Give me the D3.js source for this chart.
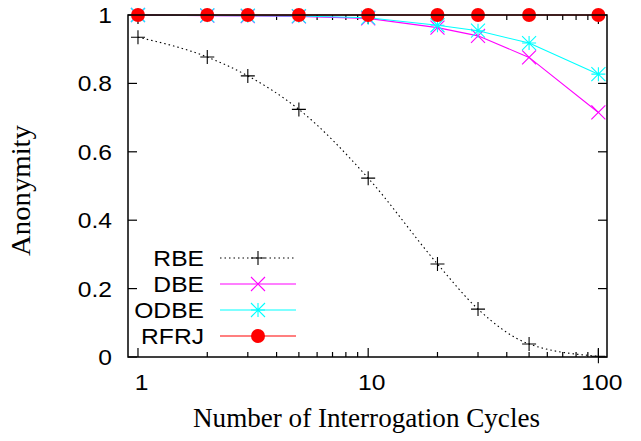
<!DOCTYPE html>
<html>
<head>
<meta charset="utf-8">
<script src="https://cdn.jsdelivr.net/npm/d3@7"></script>
<style>
  body { margin: 0; background: #fff; }
</style>
</head>
<body>
<div id="chart"></div>
<script>
// data
const cycles = [1, 2, 3, 5, 10, 20, 30, 50, 100];
const rbe  = [0.935, 0.877, 0.822, 0.724, 0.523, 0.272, 0.140, 0.038, 0.002];
const dbe  = [1.0, 0.998, 0.997, 0.996, 0.99, 0.963, 0.939, 0.876, 0.715];
const odbe = [1.0, 0.999, 0.998, 0.997, 0.992, 0.970, 0.954, 0.918, 0.827];
const rfrj = [1, 1, 1, 1, 1, 1, 1, 1, 1];
const xTicks = [1, 10, 100];
const yTicks = [0, 0.2, 0.4, 0.6, 0.8, 1];

const series = [
    {name: "RBE",  values: rbe,  color: "#000000", marker: "plus",   dash: "1.5,3", smooth: true},
    {name: "DBE",  values: dbe,  color: "#ff00ff", marker: "cross",  dash: null},
    {name: "ODBE", values: odbe, color: "#00ffff", marker: "star",   dash: null},
    {name: "RFRJ", values: rfrj, color: "#ff0000", marker: "circle", dash: null}
];

const width = 641, height = 441;
const margin = {top: 15, right: 34, bottom: 84, left: 128};
const sans = "Liberation Sans, Arial, sans-serif";
const serif = "Liberation Serif, Times New Roman, serif";
const stretch = 1.12;   // sans text in the picture is a bit wider than tall

const svg = d3.select("#chart")
    .append("svg")
    .attr("width", width)
    .attr("height", height);

const x = d3.scaleLog()
    .domain([0.905, 109])
    .range([margin.left, width - margin.right]);

const y = d3.scaleLinear()
    .domain([0, 1])
    .range([height - margin.bottom, margin.top]);

const x0 = margin.left, x1 = width - margin.right;
const y0 = height - margin.bottom, y1 = margin.top;

// ticks (gnuplot style, inward, mirrored)
const minor = [];
for (let d = 1; d <= 100; d *= 10)
    for (let k = 2; k <= 9; k++) if (d * k < 109) minor.push(d * k);

const tickG = svg.append("g").attr("stroke", "#000").attr("stroke-width", 1.2);
xTicks.forEach(v => {
    tickG.append("line").attr("x1", x(v)).attr("x2", x(v)).attr("y1", y0).attr("y2", y0 - 9);
    tickG.append("line").attr("x1", x(v)).attr("x2", x(v)).attr("y1", y1).attr("y2", y1 + 9);
});
minor.forEach(v => {
    tickG.append("line").attr("x1", x(v)).attr("x2", x(v)).attr("y1", y0).attr("y2", y0 - 5);
    tickG.append("line").attr("x1", x(v)).attr("x2", x(v)).attr("y1", y1).attr("y2", y1 + 5);
});
yTicks.forEach(v => {
    tickG.append("line").attr("x1", x0).attr("x2", x0 + 9).attr("y1", y(v)).attr("y2", y(v));
    tickG.append("line").attr("x1", x1).attr("x2", x1 - 9).attr("y1", y(v)).attr("y2", y(v));
});

// tick labels
svg.append("g")
    .selectAll("text")
    .data(xTicks)
    .join("text")
    .attr("transform", d => `translate(${x(d) + 3.5},390) scale(${stretch},1)`)
    .attr("text-anchor", "middle")
    .style("font-family", sans)
    .style("font-size", "22px")
    .text(d => d);

svg.append("g")
    .selectAll("text")
    .data(yTicks)
    .join("text")
    .attr("transform", d => `translate(112,${y(d) + 8}) scale(${stretch},1)`)
    .attr("text-anchor", "end")
    .style("font-family", sans)
    .style("font-size", "22px")
    .text(d => d);

// axis titles
svg.append("text")
    .attr("x", 366.5)
    .attr("y", 427)
    .attr("text-anchor", "middle")
    .attr("textLength", 347)
    .attr("lengthAdjust", "spacingAndGlyphs")
    .style("font-family", serif)
    .style("font-size", "27px")
    .text("Number of Interrogation Cycles");

svg.append("text")
    .attr("transform", `translate(30, 190.5) rotate(-90)`)
    .attr("text-anchor", "middle")
    .attr("textLength", 131)
    .attr("lengthAdjust", "spacingAndGlyphs")
    .style("font-family", serif)
    .style("font-size", "27px")
    .text("Anonymity");

// marker drawing
function drawMarker(g, type, cx, cy, color) {
    if (type === "plus") {
        g.append("path").attr("d", `M${cx - 7},${cy}H${cx + 7}M${cx},${cy - 7}V${cy + 7}`)
            .attr("stroke", color).attr("stroke-width", 1.1).attr("fill", "none");
    } else if (type === "cross") {
        g.append("path").attr("d", `M${cx - 7},${cy - 7}L${cx + 7},${cy + 7}M${cx - 7},${cy + 7}L${cx + 7},${cy - 7}`)
            .attr("stroke", color).attr("stroke-width", 1.1).attr("fill", "none");
    } else if (type === "star") {
        g.append("path").attr("d", `M${cx - 7},${cy}H${cx + 7}M${cx},${cy - 7}V${cy + 7}M${cx - 7},${cy - 7}L${cx + 7},${cy + 7}M${cx - 7},${cy + 7}L${cx + 7},${cy - 7}`)
            .attr("stroke", color).attr("stroke-width", 1.1).attr("fill", "none");
    } else {
        g.append("circle").attr("cx", cx).attr("cy", cy).attr("r", 7).attr("fill", color);
    }
}

const plot = svg.append("g");

series.forEach(s => {
    const pts = cycles.map((c, i) => [x(c), y(s.values[i])]);
    const line = d3.line().curve(s.smooth ? d3.curveMonotoneX : d3.curveLinear);
    plot.append("path")
        .attr("d", line(pts))
        .attr("fill", "none")
        .attr("stroke", s.color)
        .attr("stroke-width", 1.1)
        .attr("stroke-dasharray", s.dash);
    const mg = plot.append("g");
    pts.forEach(p => drawMarker(mg, s.marker, p[0], p[1], s.color));
});

// frame
svg.append("rect")
    .attr("x", x0).attr("y", y1)
    .attr("width", x1 - x0).attr("height", y0 - y1)
    .attr("fill", "none")
    .attr("stroke", "#000")
    .attr("stroke-width", 1.5);

// legend
const legend = svg.append("g");
series.forEach((s, i) => {
    const ly = 258 + i * 26;
    legend.append("text")
        .attr("transform", `translate(204,${ly + 8}) scale(${stretch},1)`)
        .attr("text-anchor", "end")
        .style("font-family", sans)
        .style("font-size", "22px")
        .text(s.name);
    legend.append("line")
        .attr("x1", 220).attr("x2", 296)
        .attr("y1", ly).attr("y2", ly)
        .attr("stroke", s.color)
        .attr("stroke-width", 1.1)
        .attr("stroke-dasharray", s.dash);
    drawMarker(legend, s.marker, 258, ly, s.color);
});
</script>
</body>
</html>
